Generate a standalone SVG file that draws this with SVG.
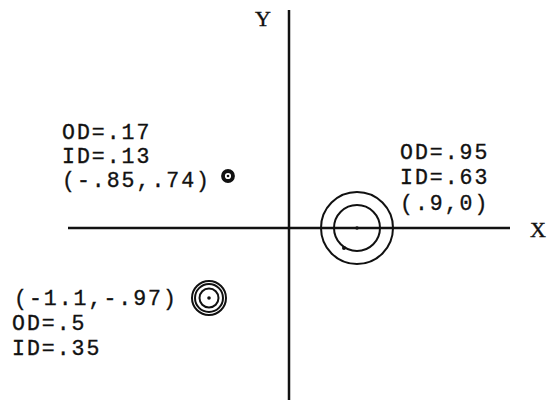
<svg xmlns="http://www.w3.org/2000/svg" width="555" height="405" viewBox="0 0 555 405">
<style>
.t{font-family:"Liberation Mono","Courier New",monospace;font-size:21.5px;letter-spacing:2px;fill:#111;stroke:#111;stroke-width:0.35}
.ax{font-family:"Liberation Serif","Times New Roman",serif;font-size:22px;fill:#111;stroke:#111;stroke-width:0.4}
.c{fill:none;stroke:#111;stroke-width:2}
</style>
<rect width="555" height="405" fill="#fff"/>
<g id="axes" stroke="#111" stroke-width="2.5">
<line x1="68" y1="228" x2="510" y2="228"/>
<line x1="289" y1="10" x2="289" y2="400"/>
</g>
<g id="label-y"><text class="ax" x="263" y="26" text-anchor="middle">Y</text></g>
<g id="label-x"><text class="ax" x="538" y="237" text-anchor="middle">X</text></g>
<g id="tube-a">
<circle class="c" cx="357" cy="228" r="36"/>
<circle class="c" cx="357" cy="228" r="23"/>
<circle cx="344" cy="248" r="2" fill="#111"/>
<circle cx="357" cy="228" r="1.8" fill="#111"/>
<text class="t" x="400" y="159">OD=.95</text>
<text class="t" x="400" y="184">ID=.63</text>
<text class="t" x="400" y="210">(.9,0)</text>
</g>
<g id="tube-b">
<circle cx="228" cy="176" r="5" fill="none" stroke="#111" stroke-width="3.8"/>
<circle cx="228" cy="176" r="1.3" fill="#111"/>
<text class="t" x="62" y="139">OD=.17</text>
<text class="t" x="62" y="163">ID=.13</text>
<text class="t" x="62" y="187">(-.85,.74)</text>
</g>
<g id="tube-c">
<circle class="c" cx="209" cy="298" r="17"/>
<circle class="c" cx="209" cy="298" r="14"/>
<circle class="c" cx="209" cy="298" r="9.5"/>
<circle cx="209" cy="298" r="1.8" fill="#111"/>
<text class="t" x="14" y="305">(-1.1,-.97)</text>
<text class="t" x="12" y="330">OD=.5</text>
<text class="t" x="12" y="355">ID=.35</text>
</g>
</svg>
